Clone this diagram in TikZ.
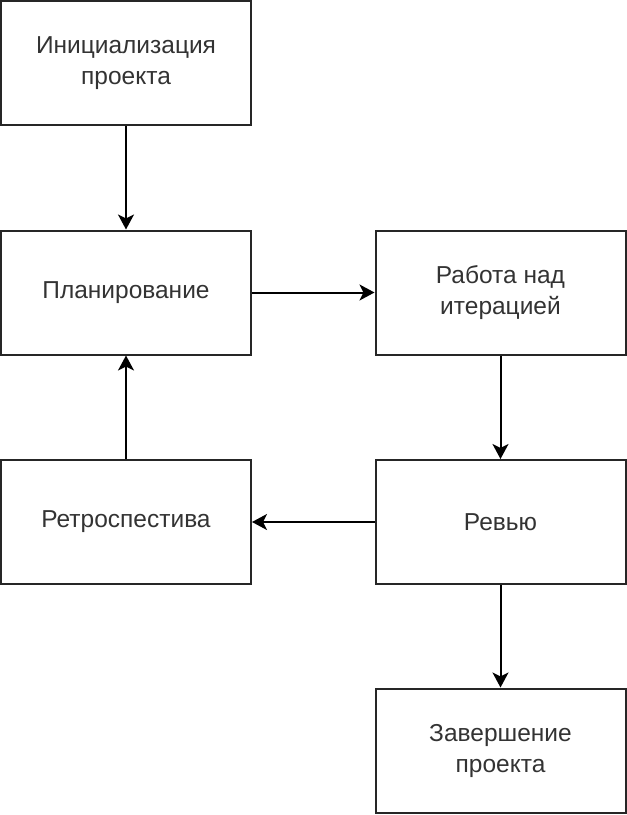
\documentclass[tikz,border=0pt]{standalone}
\usepackage{fontspec}
\setmainfont{Liberation Sans}
\usetikzlibrary{arrows.meta}
\begin{document}
\begin{tikzpicture}[x=1pt,y=-1pt,
  box/.style={draw=black!85,line width=2pt,minimum width=250pt,minimum height=124pt,inner sep=0pt,align=center,font=\fontsize{24.5}{31}\selectfont,text=black!80},
  conn/.style={draw=black,line width=2pt,-{Stealth[length=15pt,width=16pt,inset=4pt]}}]
\useasboundingbox (0,0) rectangle (627,815);
\node[box] (init) at (126,63) {Инициализация\\проекта};
\node[box] (plan) at (126,292.5) {Планирование};
\node[box] (work) at (500.5,292.5) {Работа над\\итерацией};
\node[box] (retro) at (126,522) {Ретроспестива};
\node[box] (review) at (500.5,522) {Ревью};
\node[box] (done) at (500.5,750.5) {Завершение\\проекта};
\draw[conn] (init) -- (plan);
\draw[conn] (plan) -- (work);
\draw[conn] (work) -- (review);
\draw[conn] (review) -- (retro);
\draw[conn] (retro) -- (plan);
\draw[conn] (review) -- (done);
\end{tikzpicture}
\end{document}
